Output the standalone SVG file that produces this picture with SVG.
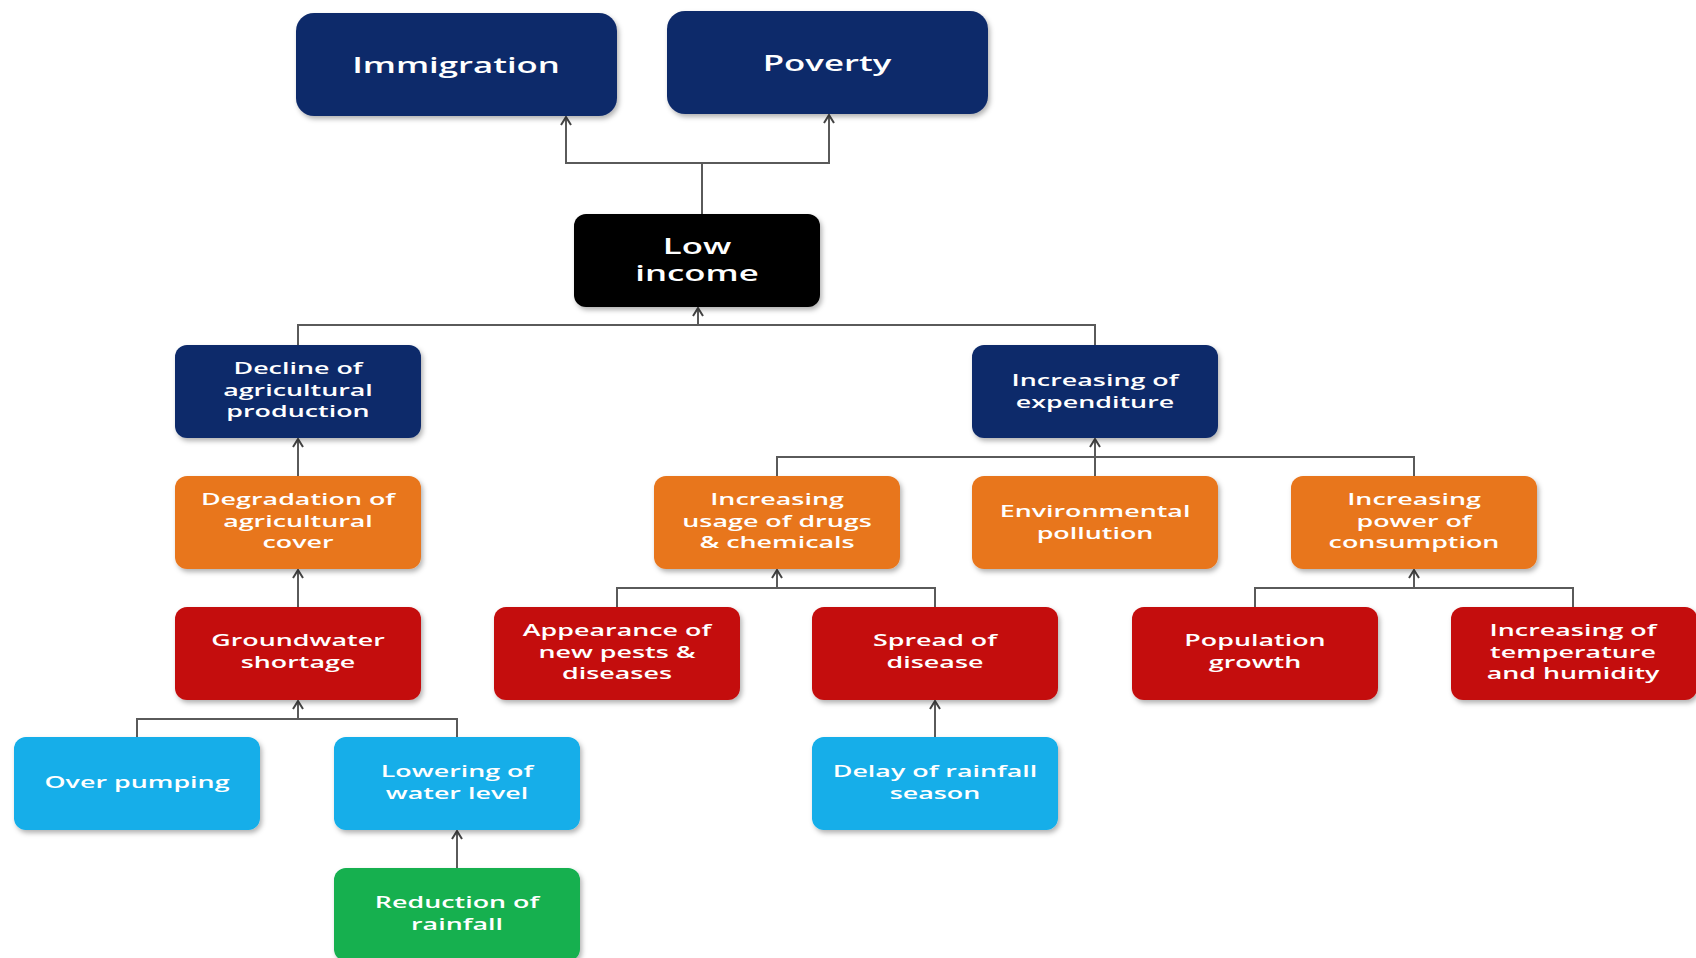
<svg xmlns="http://www.w3.org/2000/svg" width="1696" height="958" viewBox="0 0 1696 958">
<defs>
<filter id="sh" x="-10%" y="-10%" width="125%" height="130%">
<feDropShadow dx="2" dy="3" stdDeviation="2.5" flood-color="#000" flood-opacity="0.3"/>
</filter>
<marker id="ar" viewBox="0 0 12 12" refX="11" refY="6" markerWidth="12" markerHeight="12" markerUnits="userSpaceOnUse" orient="auto">
<path d="M3,1 L11,6 L3,11" fill="none" stroke="#444" stroke-width="2"/>
</marker>
</defs>
<style>
.n{filter:url(#sh)}
.navy{fill:#0c2a6a}
.blk{fill:#000}
.org{fill:#e8761e}
.red{fill:#c40a0a}
.blu{fill:#12aee9}
.grn{fill:#12b04f}
.t{font-family:"Open Sans","Liberation Sans",sans-serif;font-weight:600;font-size:17px;fill:#fff;text-anchor:middle}
.tb{font-size:22px}
.c{fill:none;stroke:#5a5a5a;stroke-width:2}
</style>
<rect width="1696" height="958" fill="#fff"/>
<g id="connectors">
<polyline class="c" points="702,214 702,163 566,163 566,117" marker-end="url(#ar)"/>
<polyline class="c" points="702,163 829,163 829,115" marker-end="url(#ar)"/>
<polyline class="c" points="298,345 298,325 1095,325 1095,345"/>
<line class="c" x1="698" y1="325" x2="698" y2="308" marker-end="url(#ar)"/>
<line class="c" x1="298" y1="476" x2="298" y2="439" marker-end="url(#ar)"/>
<line class="c" x1="298" y1="607" x2="298" y2="570" marker-end="url(#ar)"/>
<polyline class="c" points="137,737 137,719 457,719 457,737"/>
<line class="c" x1="298" y1="719" x2="298" y2="701" marker-end="url(#ar)"/>
<line class="c" x1="457" y1="868" x2="457" y2="831" marker-end="url(#ar)"/>
<polyline class="c" points="777,476 777,457 1414,457 1414,476"/>
<line class="c" x1="1095" y1="476" x2="1095" y2="439" marker-end="url(#ar)"/>
<polyline class="c" points="617,607 617,588 935,588 935,607"/>
<line class="c" x1="777" y1="588" x2="777" y2="570" marker-end="url(#ar)"/>
<line class="c" x1="935" y1="737" x2="935" y2="701" marker-end="url(#ar)"/>
<polyline class="c" points="1255,607 1255,588 1573,588 1573,607"/>
<line class="c" x1="1414" y1="588" x2="1414" y2="570" marker-end="url(#ar)"/>
</g>
<g id="immigration"><rect class="n navy" x="296" y="13" width="321" height="103" rx="18"/><text class="t tb" transform="translate(456,73) scale(1.58,1)">Immigration</text></g>
<g id="poverty"><rect class="n navy" x="667" y="11" width="321" height="103" rx="18"/><text class="t tb" transform="translate(827,71) scale(1.58,1)">Poverty</text></g>
<g id="low-income"><rect class="n blk" x="574" y="214" width="246" height="93" rx="12"/><text class="t tb" transform="translate(697,254) scale(1.58,1)">Low<tspan x="0" dy="27">income</tspan></text></g>
<g id="decline"><rect class="n navy" x="175" y="345" width="246" height="93" rx="12"/><text class="t" transform="translate(298,374) scale(1.58,1)">Decline of<tspan x="0" dy="21.6">agricultural</tspan><tspan x="0" dy="21.6">production</tspan></text></g>
<g id="expenditure"><rect class="n navy" x="972" y="345" width="246" height="93" rx="12"/><text class="t" transform="translate(1095,386) scale(1.58,1)">Increasing of<tspan x="0" dy="21.6">expenditure</tspan></text></g>
<g id="degradation"><rect class="n org" x="175" y="476" width="246" height="93" rx="12"/><text class="t" transform="translate(298,505) scale(1.58,1)">Degradation of<tspan x="0" dy="21.6">agricultural</tspan><tspan x="0" dy="21.6">cover</tspan></text></g>
<g id="drugs"><rect class="n org" x="654" y="476" width="246" height="93" rx="12"/><text class="t" transform="translate(777,505) scale(1.58,1)">Increasing<tspan x="0" dy="21.6">usage of drugs</tspan><tspan x="0" dy="21.6">&amp; chemicals</tspan></text></g>
<g id="pollution"><rect class="n org" x="972" y="476" width="246" height="93" rx="12"/><text class="t" transform="translate(1095,517) scale(1.58,1)">Environmental<tspan x="0" dy="21.6">pollution</tspan></text></g>
<g id="consumption"><rect class="n org" x="1291" y="476" width="246" height="93" rx="12"/><text class="t" transform="translate(1414,505) scale(1.58,1)">Increasing<tspan x="0" dy="21.6">power of</tspan><tspan x="0" dy="21.6">consumption</tspan></text></g>
<g id="groundwater"><rect class="n red" x="175" y="607" width="246" height="93" rx="12"/><text class="t" transform="translate(298,646) scale(1.58,1)">Groundwater<tspan x="0" dy="21.6">shortage</tspan></text></g>
<g id="pests"><rect class="n red" x="494" y="607" width="246" height="93" rx="12"/><text class="t" transform="translate(617,636) scale(1.58,1)">Appearance of<tspan x="0" dy="21.6">new pests &amp;</tspan><tspan x="0" dy="21.6">diseases</tspan></text></g>
<g id="spread"><rect class="n red" x="812" y="607" width="246" height="93" rx="12"/><text class="t" transform="translate(935,646) scale(1.58,1)">Spread of<tspan x="0" dy="21.6">disease</tspan></text></g>
<g id="population"><rect class="n red" x="1132" y="607" width="246" height="93" rx="12"/><text class="t" transform="translate(1255,646) scale(1.58,1)">Population<tspan x="0" dy="21.6">growth</tspan></text></g>
<g id="temperature"><rect class="n red" x="1451" y="607" width="246" height="93" rx="12"/><text class="t" transform="translate(1573,636) scale(1.58,1)">Increasing of<tspan x="0" dy="21.6">temperature</tspan><tspan x="0" dy="21.6">and humidity</tspan></text></g>
<g id="over-pumping"><rect class="n blu" x="14" y="737" width="246" height="93" rx="12"/><text class="t" transform="translate(137,788) scale(1.58,1)">Over pumping</text></g>
<g id="lowering"><rect class="n blu" x="334" y="737" width="246" height="93" rx="12"/><text class="t" transform="translate(457,777) scale(1.58,1)">Lowering of<tspan x="0" dy="21.6">water level</tspan></text></g>
<g id="delay"><rect class="n blu" x="812" y="737" width="246" height="93" rx="12"/><text class="t" transform="translate(935,777) scale(1.58,1)">Delay of rainfall<tspan x="0" dy="21.6">season</tspan></text></g>
<g id="reduction"><rect class="n grn" x="334" y="868" width="246" height="93" rx="12"/><text class="t" transform="translate(457,908) scale(1.58,1)">Reduction of<tspan x="0" dy="21.6">rainfall</tspan></text></g>
</svg>
